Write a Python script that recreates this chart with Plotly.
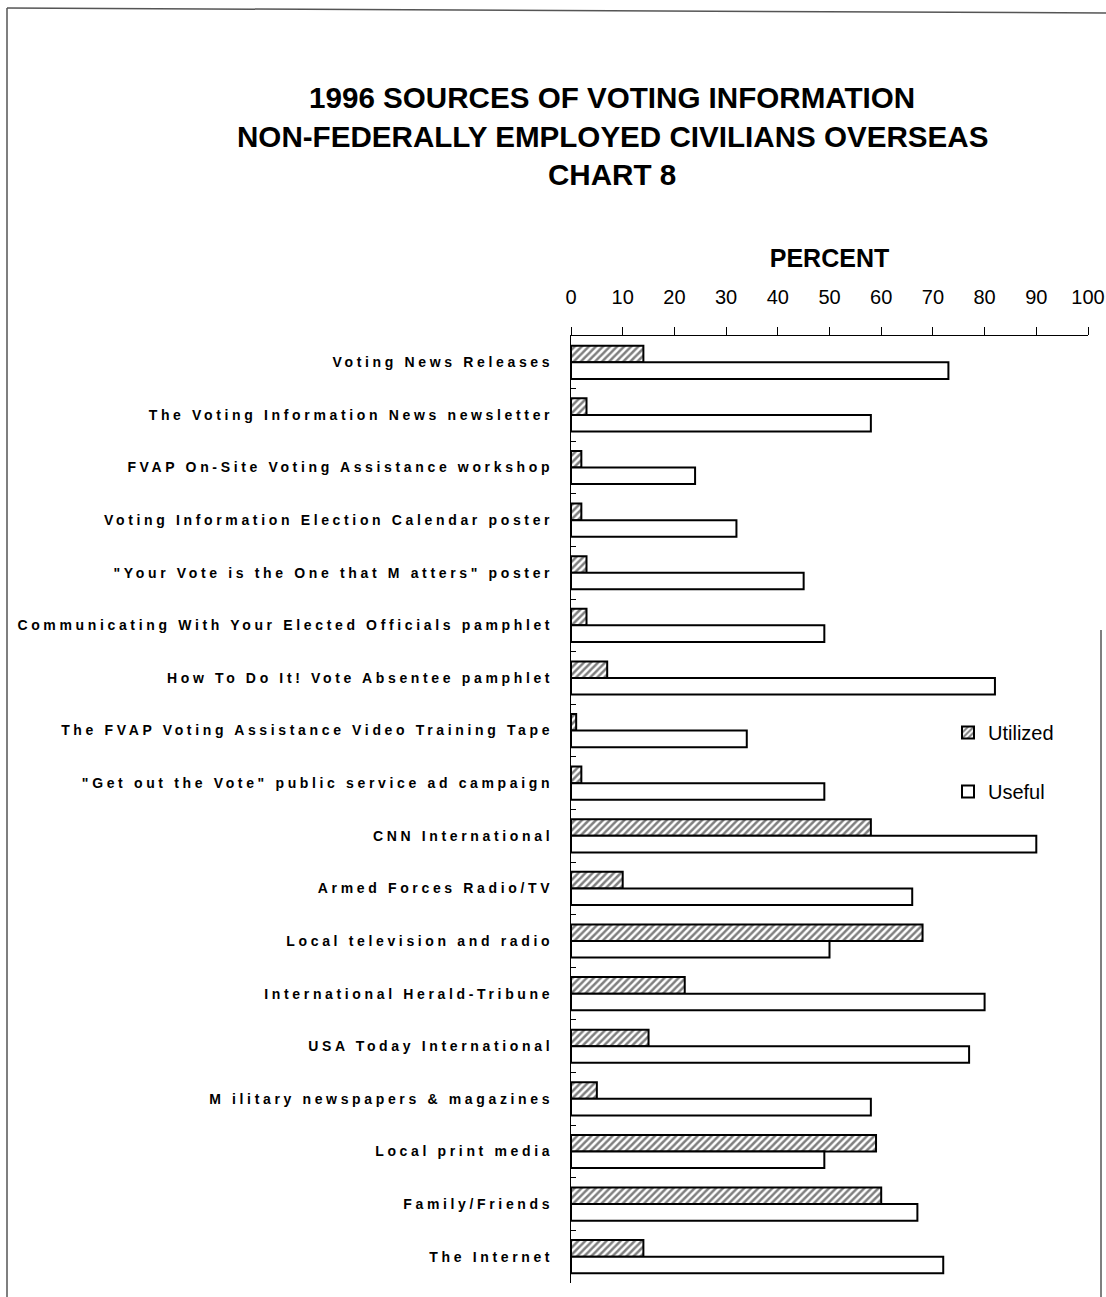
import plotly.graph_objects as go

categories = [
    "Voting News Releases",
    "The Voting Information News newsletter",
    "FVAP On-Site Voting Assistance workshop",
    "Voting Information Election Calendar poster",
    "\"Your Vote is the One that M atters\" poster",
    "Communicating With Your Elected Officials pamphlet",
    "How To Do It! Vote Absentee pamphlet",
    "The FVAP Voting Assistance Video Training Tape",
    "\"Get out the Vote\" public service ad campaign",
    "CNN International",
    "Armed Forces Radio/TV",
    "Local television and radio",
    "International Herald-Tribune",
    "USA Today International",
    "M ilitary newspapers & magazines",
    "Local print media",
    "Family/Friends",
    "The Internet",
]
utilized = [14, 3, 2, 2, 3, 3, 7, 1, 2, 58, 10, 68, 22, 15, 5, 59, 60, 14]
useful = [73, 58, 24, 32, 45, 49, 82, 34, 49, 90, 66, 50, 80, 77, 58, 49, 67, 72]
x_ticks = [0, 10, 20, 30, 40, 50, 60, 70, 80, 90, 100]
title_lines = [
    "1996 SOURCES OF VOTING INFORMATION",
    "NON-FEDERALLY EMPLOYED CIVILIANS OVERSEAS",
    "CHART 8",
]

FONT = "Liberation Sans, Arial, sans-serif"
L, R, T, B = 571, 18, 336, 14
W = 1106 - L - R
H = 1297 - T - B


def px_x(p):
    return (p - L) / W


def px_y(p):
    return 1 - (p - T) / H


fig = go.Figure()
fig.add_trace(go.Bar(
    name="Utilized", y=categories, x=utilized, orientation="h",
    marker=dict(color="white", line=dict(color="black", width=2),
                pattern=dict(shape="/", fgcolor="black", bgcolor="white",
                             size=5, solidity=0.5)),
    legendgroup="a",
))
fig.add_trace(go.Bar(
    name="Useful", y=categories, x=useful, orientation="h",
    marker=dict(color="white", line=dict(color="black", width=2)),
    legendgroup="b",
))

fig.update_layout(
    width=1106, height=1297,
    margin=dict(l=L, r=R, t=T, b=B, autoexpand=False),
    paper_bgcolor="white", plot_bgcolor="white",
    barmode="group", bargap=0.37, bargroupgap=0.0,
    font=dict(family=FONT, color="black"),
    showlegend=True,
    legend=dict(x=px_x(948), y=px_y(713), xanchor="left", yanchor="top",
                font=dict(size=20, family=FONT), traceorder="grouped",
                tracegroupgap=30, bgcolor="rgba(0,0,0,0)",
                itemwidth=30),
    xaxis=dict(side="top", range=[0, 100], tickvals=x_ticks,
               automargin=False,
               showgrid=False, zeroline=False, showline=True,
               linecolor="black", linewidth=1, ticks="outside",
               ticklen=8, tickcolor="black",
               tickfont=dict(size=20, family=FONT),
               ticklabelstandoff=15,
               title=dict(text="<b>PERCENT</b>", font=dict(size=25, family=FONT),
                          standoff=11)),
    yaxis=dict(autorange="reversed", showgrid=False, showline=True,
               automargin=False,
               linecolor="black", linewidth=1, ticks="inside",
               tickson="boundaries", ticklen=5, tickcolor="black",
               tickfont=dict(size=14, family=FONT, weight="bold"),
               ticklabelstandoff=14),
)

title_y = [97, 136, 175]
for line, yp in zip(title_lines, title_y):
    fig.add_annotation(
        text="<b>" + line + "</b>", xref="paper", yref="paper",
        x=px_x(612), y=px_y(yp),
        xanchor="center", yanchor="middle", showarrow=False,
        font=dict(size=29.6, family=FONT, color="black"),
    )

# page frame
fig.add_shape(type="line", xref="paper", yref="paper",
              x0=px_x(7), x1=px_x(1106), y0=px_y(8), y1=px_y(13),
              line=dict(color="#555", width=1.5))
fig.add_shape(type="line", xref="paper", yref="paper",
              x0=px_x(7), x1=px_x(7), y0=px_y(8), y1=px_y(1297),
              line=dict(color="#555", width=1.5))
fig.add_shape(type="line", xref="paper", yref="paper",
              x0=px_x(1101), x1=px_x(1101), y0=px_y(630), y1=px_y(1297),
              line=dict(color="#555", width=1.5))

post = ("document.querySelectorAll('.ytick text').forEach(function(t){"
        "t.style.letterSpacing='3.65px';});")
fig.write_html("out.html", post_script=post)
